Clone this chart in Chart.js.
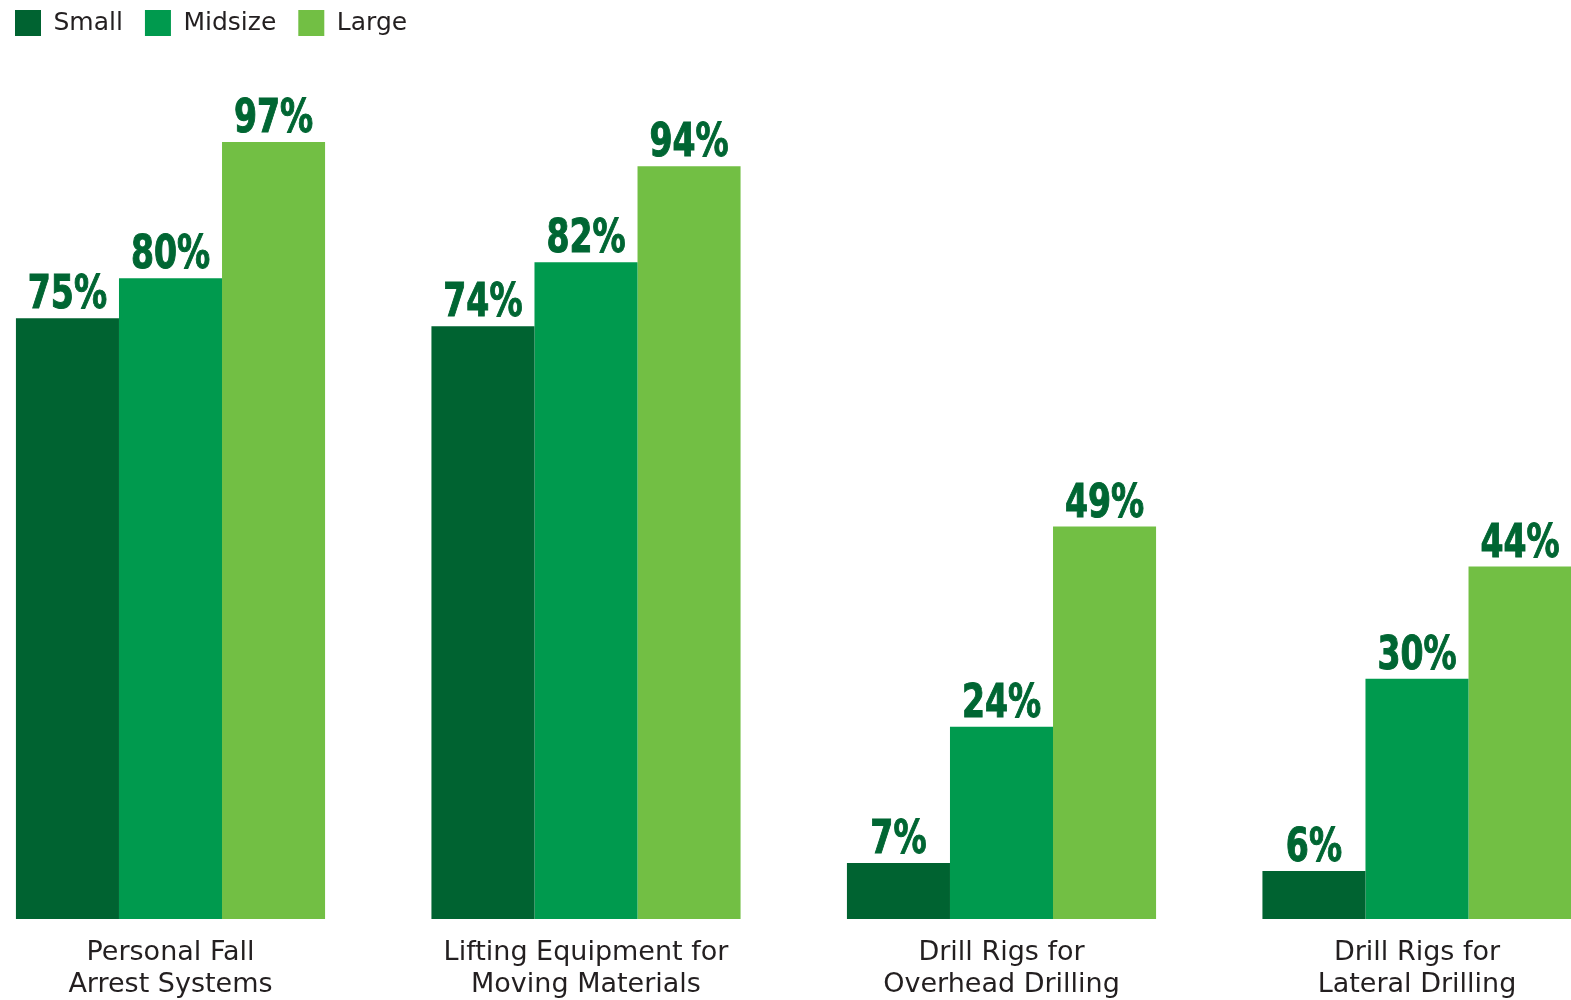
<!DOCTYPE html>
<html>
<head>
<meta charset="utf-8">
<script src="https://cdn.jsdelivr.net/npm/chart.js@4"></script>
<style>
    html, body { margin: 0; padding: 0; background: #fff; overflow: hidden; }
    #wrap { position: absolute; left: -7px; top: -12px; width: 1578px; height: 1031px; }
</style>
</head>
<body>
<div id="wrap"><canvas id="equipmentChart"></canvas></div>
<script>
const categories = [
    ['Personal Fall', 'Arrest Systems'],
    ['Lifting Equipment for', 'Moving Materials'],
    ['Drill Rigs for', 'Overhead Drilling'],
    ['Drill Rigs for', 'Lateral Drilling']
];
const seriesNames = ['Small', 'Midsize', 'Large'];
const smallValues = [75, 74, 7, 6];
const midsizeValues = [80, 82, 24, 30];
const largeValues = [97, 94, 49, 44];
const yMax = 109;

const textFont = '"DejaVu Sans", sans-serif';
const valueFont = '"DejaVu Sans Condensed", "DejaVu Sans", sans-serif';

// values above each bar, drawn from the bar elements
const valueLabels = {
    id: 'valueLabels',
    afterDatasetsDraw(chart) {
        const ctx = chart.ctx;
        chart.data.datasets.forEach((ds, i) => {
            chart.getDatasetMeta(i).data.forEach((bar, j) => {
                ctx.save();
                ctx.translate(bar.x, bar.y - 10);
                ctx.scale(0.8, 1);
                ctx.font = 'bold 46px ' + valueFont;
                ctx.fillStyle = '#006633';
                ctx.strokeStyle = '#006633';
                ctx.lineWidth = 1;
                ctx.textAlign = 'center';
                ctx.textBaseline = 'alphabetic';
                ctx.fillText(ds.data[j] + '%', 0, 0);
                ctx.strokeText(ds.data[j] + '%', 0, 0);
                ctx.restore();
            });
        });
    }
};

const ctx = document.getElementById('equipmentChart').getContext('2d');
new Chart(ctx, {
    type: 'bar',
    data: {
        labels: categories,
        datasets: [{
            label: seriesNames[0],
            data: smallValues,
            backgroundColor: '#006331'
        }, {
            label: seriesNames[1],
            data: midsizeValues,
            backgroundColor: '#009a4e'
        }, {
            label: seriesNames[2],
            data: largeValues,
            backgroundColor: '#72bf44'
        }]
    },
    options: {
        responsive: true,
        maintainAspectRatio: false,
        animation: false,
        categoryPercentage: 0.744,
        barPercentage: 1,
        clip: false,
        borderWidth: 0,
        layout: {
            padding: { left: 0, right: 154, top: 0, bottom: 0 }
        },
        plugins: {
            legend: {
                position: 'top',
                align: 'start',
                labels: {
                    boxWidth: 26,
                    boxHeight: 26,
                    padding: 22,
                    color: '#231f20',
                    font: { family: textFont, size: 25 }
                }
            },
            tooltip: { enabled: false }
        },
        scales: {
            x: {
                offset: false,
                grid: { display: false, drawTicks: false },
                border: { display: false },
                ticks: {
                    color: '#231f20',
                    padding: 18,
                    maxRotation: 0,
                    autoSkip: false,
                    font: { family: textFont, size: 27, lineHeight: 1.19 }
                },
                afterFit(scale) {
                    scale.height = 100;
                }
            },
            y: {
                min: 0,
                max: yMax,
                grid: { display: false, drawTicks: false },
                border: { display: false },
                ticks: { display: false },
                afterFit(scale) {
                    scale.width = 177.5;
                }
            }
        }
    },
    plugins: [valueLabels]
});
</script>
</body>
</html>
